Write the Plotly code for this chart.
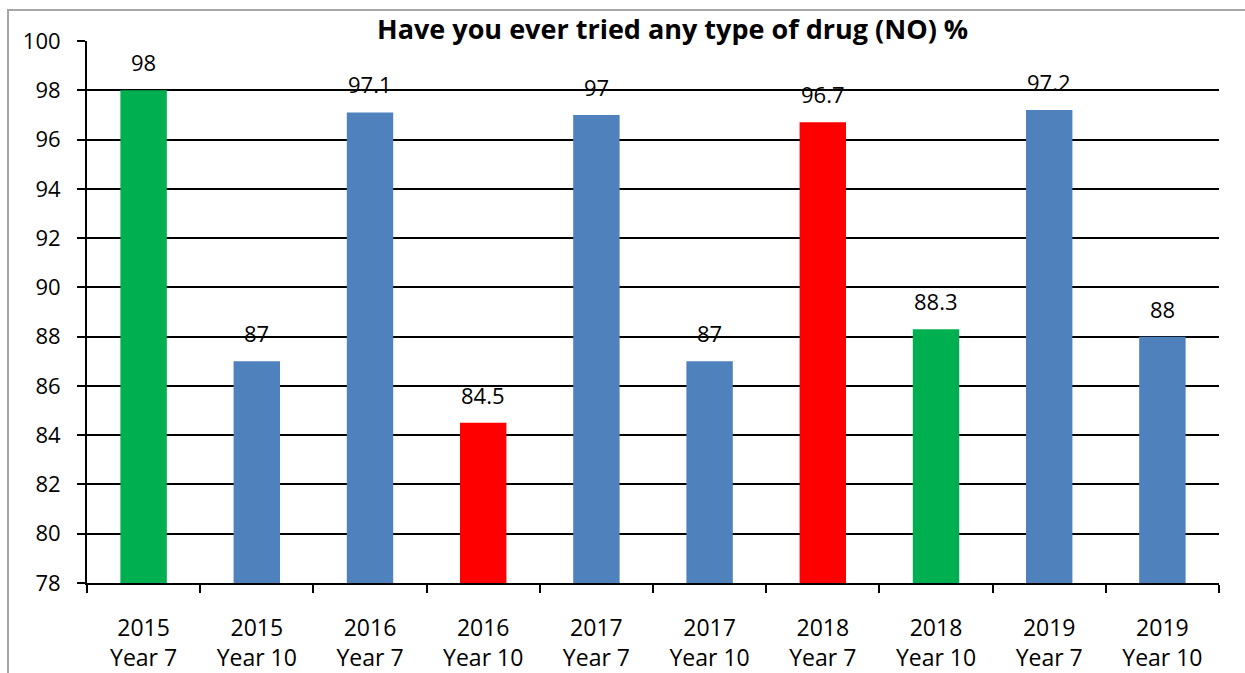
import plotly.graph_objects as go

# Survey results: share of students answering "NO"
categories = ["2015<br>Year 7", "2015<br>Year 10", "2016<br>Year 7", "2016<br>Year 10",
              "2017<br>Year 7", "2017<br>Year 10", "2018<br>Year 7", "2018<br>Year 10",
              "2019<br>Year 7", "2019<br>Year 10"]
values = [98, 87, 97.1, 84.5, 97, 87, 96.7, 88.3, 97.2, 88]
label_text = ["98", "87", "97.1", "84.5", "97", "87", "96.7", "88.3", "97.2", "88"]
bar_colors = ["#00B050", "#4F81BD", "#4F81BD", "#FF0000", "#4F81BD",
              "#4F81BD", "#FF0000", "#00B050", "#4F81BD", "#4F81BD"]
y_ticks = list(range(78, 101, 2))

FONT = "Open Sans"
W, H = 1245, 673
L, R, T, B = 87, 26, 41, 90

fig = go.Figure(go.Bar(
    x=categories, y=values, marker=dict(color=bar_colors, line=dict(width=0)),
    width=0.41, hoverinfo="skip",
))

for c, v, t in zip(categories, values, label_text):
    fig.add_annotation(x=c, y=v, text=t, showarrow=False, yanchor="bottom",
                       yshift=11, font=dict(family=FONT, size=22, color="#000"))

fig.add_annotation(xref="paper", yref="paper", x=(672 - L) / (W - L - R), y=1,
                   yshift=-8, yanchor="bottom", showarrow=False,
                   text="<b>Have you ever tried any type of drug (NO) %</b>",
                   font=dict(family=FONT, size=27, color="#000"))

# outer chart border (partly visible)
pw, ph = W - L - R, H - T - B
fig.add_shape(type="rect", xref="paper", yref="paper",
              x0=(8 - L) / pw, x1=(W + 20 - L) / pw,
              y0=(H - B - (H + 20)) / ph, y1=(H - B - 10) / ph,
              line=dict(color="#A6A6A6", width=2), layer="below")

fig.update_layout(
    width=W, height=H, margin=dict(l=L, r=R, t=T, b=B, autoexpand=False),
    paper_bgcolor="white", plot_bgcolor="white", showlegend=False,
    font=dict(family=FONT, size=22, color="#000"),
    bargap=0.59,
)
fig.update_xaxes(
    type="category", tickson="boundaries", ticks="outside", ticklen=8,
    tickwidth=2, tickcolor="#000", showline=True, linecolor="#000", linewidth=2,
    showgrid=False, ticklabelstandoff=23, tickfont=dict(family=FONT, size=23),
    automargin=False,
)
fig.update_yaxes(
    range=[78, 100], tickvals=y_ticks, ticks="outside", ticklen=8, tickwidth=2,
    tickcolor="#000", showline=True, linecolor="#000", linewidth=2,
    showgrid=True, gridcolor="#000", gridwidth=2, zeroline=False,
    ticklabelstandoff=12, tickfont=dict(family=FONT, size=22),
    automargin=False,
)

fig.write_html("out.html")
